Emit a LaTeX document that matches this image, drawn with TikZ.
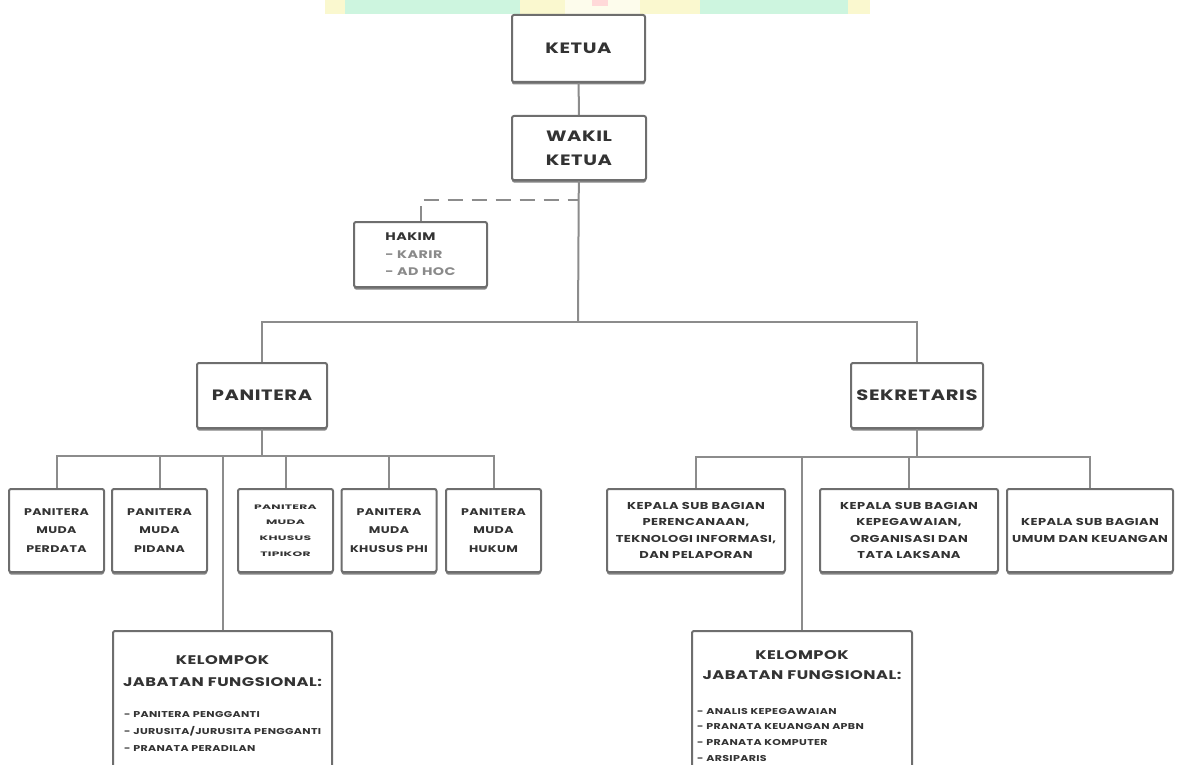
\documentclass[tikz,border=0pt]{standalone}
\usepackage{fontspec}
\setmainfont{Poppins}[FakeStretch=1.3, LetterSpace=4]
\newfontfamily\tinywide{Poppins}[FakeStretch=1.9, LetterSpace=4]
\usetikzlibrary{positioning,shadows}

\definecolor{boxgray}{HTML}{6E6E6E}
\definecolor{linegray}{HTML}{8C8C8C}
\definecolor{txtdark}{HTML}{333333}
\definecolor{txtlight}{HTML}{8A8A8A}
\definecolor{bannermint}{HTML}{CDF5DF}
\definecolor{banneryellow}{HTML}{FAF8CF}

\begin{document}
\begin{tikzpicture}[
    x=1pt, y=-1pt,
    box/.style={
        draw=boxgray, line width=2pt, rounded corners=2pt,
        fill=white, align=center, inner sep=0pt,
        text=txtdark, font=\bfseries,
        drop shadow={shadow xshift=0pt, shadow yshift=-2.5pt,
                     fill=boxgray!85, opacity=1}
    },
    bigbox/.style={box, minimum height=65pt,
        font=\bfseries\fontsize{15}{24}\selectfont},
    mudabox/.style={box, minimum width=95pt, minimum height=83pt,
        font=\bfseries\fontsize{9.7}{18.5}\selectfont},
    subbox/.style={box, minimum width=178pt, minimum height=83pt,
        font=\bfseries\fontsize{10}{16.5}\selectfont},
    kjfbox/.style={box, minimum height=170pt},
    kjfhead/.style={align=center, text=txtdark,
        font=\bfseries\fontsize{12.5}{22.5}\selectfont},
    kjflist/.style={align=left, text=txtdark, inner sep=0pt,
        font=\bfseries\fontsize{8.5}{17}\selectfont},
    conn/.style={draw=linegray, line width=2pt}
]

% page
\useasboundingbox (0,0) rectangle (1177,765);
\clip (0,0) rectangle (1177,765);

% banner
\fill[bannermint] (325,0) rectangle (870,14);
\fill[banneryellow] (325,0) rectangle (345,14);
\fill[banneryellow] (520,0) rectangle (565,14);
\fill[white!60!banneryellow] (565,0) rectangle (640,14);
\fill[red!15] (592,0) rectangle (608,6);
\fill[banneryellow] (640,0) rectangle (700,14);
\fill[banneryellow] (848,0) rectangle (870,14);

% top
\node[bigbox, minimum width=133pt, minimum height=67pt] (ketua) at (578.5,48.5) {KETUA};
\node[bigbox, minimum width=134pt, minimum height=64pt] (wakil) at (579,148) {WAKIL\\KETUA};

\node[box, minimum width=133pt, minimum height=65pt, align=left,
      font=\bfseries\fontsize{11}{17.5}\selectfont]
    (hakim) at (420.5,254.5)
    {HAKIM\\\textcolor{txtlight}{- KARIR}\\\textcolor{txtlight}{- AD HOC}};

% second level
\node[bigbox, minimum width=130pt] (panitera) at (262,395.5) {PANITERA};
\node[bigbox, minimum width=132pt] (sekretaris) at (917,395.5) {SEKRETARIS};

% panitera muda
\node[mudabox] (pmperdata) at (56.5,530.5) {PANITERA\\MUDA\\PERDATA};
\node[mudabox] (pmpidana) at (159.5,530.5) {PANITERA\\MUDA\\PIDANA};
\node[mudabox, font=\tinywide\bfseries\fontsize{6.5}{15.7}\selectfont]
    (pmtipikor) at (285.5,530.5) {PANITERA\\MUDA\\KHUSUS\\TIPIKOR};
\node[mudabox] (pmphi) at (389,530.5) {PANITERA\\MUDA\\KHUSUS PHI};
\node[mudabox] (pmhukum) at (493.5,530.5) {PANITERA\\MUDA\\HUKUM};

% sub bagian
\node[subbox] (ksbptip) at (696,530.5)
    {KEPALA SUB BAGIAN\\PERENCANAAN,\\TEKNOLOGI INFORMASI,\\DAN PELAPORAN};
\node[subbox] (ksbkot) at (909,530.5)
    {KEPALA SUB BAGIAN\\KEPEGAWAIAN,\\ORGANISASI DAN\\TATA LAKSANA};
\node[subbox, minimum width=166pt] (ksbuk) at (1090,530.5)
    {KEPALA SUB BAGIAN\\UMUM DAN KEUANGAN};

% kelompok jabatan fungsional
\node[kjfbox, minimum width=219pt, anchor=north] (kjfpan) at (222.5,630) {};
\node[kjfhead, below=22pt of kjfpan.north] (kjfpanhead)
    {KELOMPOK\\JABATAN FUNGSIONAL:};
\node[kjflist, anchor=north west] (kjfpanlist) at ([xshift=12pt,yshift=-81pt]kjfpan.north west)
    {- PANITERA PENGGANTI\\- JURUSITA/JURUSITA PENGGANTI\\- PRANATA PERADILAN};

\node[kjfbox, minimum width=220pt, anchor=north] (kjfsek) at (802,630) {};
\node[kjfhead, below=17pt of kjfsek.north, font=\bfseries\fontsize{12.5}{20.5}\selectfont] (kjfsekhead)
    {KELOMPOK\\JABATAN FUNGSIONAL:};
\node[kjflist, anchor=north west, font=\bfseries\fontsize{8.5}{15.7}\selectfont] (kjfseklist)
    at ([xshift=6pt,yshift=-78pt]kjfsek.north west)
    {- ANALIS KEPEGAWAIAN\\- PRANATA KEUANGAN APBN\\- PRANATA KOMPUTER\\- ARSIPARIS};

% connectors
\coordinate (hbar) at (578,200);
\coordinate (mbar) at (578,322);
\coordinate (pbar) at (262,456);
\coordinate (sbar) at (917,457);

\draw[conn]
    (ketua) --
    (wakil);

\draw[conn]
    (wakil) --
    (mbar);

\draw[conn, dash pattern=on 15pt off 9pt]
    (hakim.north) |-
    (hbar);

\draw[conn]
    (panitera.north) |-
    (mbar) -|
    (sekretaris.north);

\draw[conn]
    (panitera) --
    (pbar);
\foreach \c in {pmperdata,pmpidana,pmtipikor,pmphi,pmhukum,kjfpan}
    \draw[conn] (\c.north) |- (pbar);

\draw[conn]
    (sekretaris) --
    (sbar);
\foreach \c in {ksbptip,ksbkot,ksbuk,kjfsek}
    \draw[conn] (\c.north) |- (sbar);

\end{tikzpicture}
\end{document}
